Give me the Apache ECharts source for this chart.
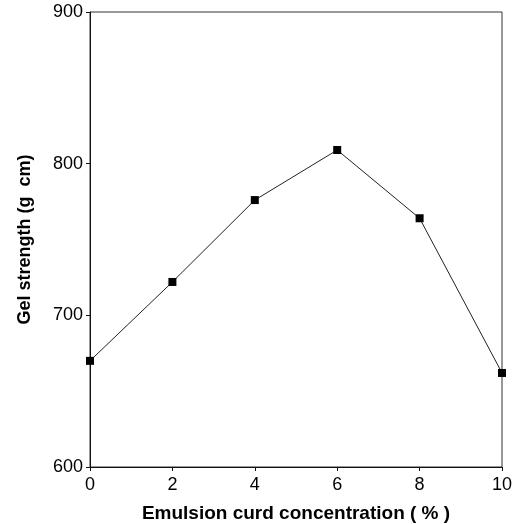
<!DOCTYPE html>
<html><head><meta charset="utf-8">
<script src="https://cdn.jsdelivr.net/npm/echarts@6/dist/echarts.min.js"></script>
<style>html,body{margin:0;padding:0;background:#fff}#c{width:518px;height:524px}</style>
</head><body><div id="c"></div>
<script>
const concentrations = [0, 2, 4, 6, 8, 10];
const gelStrength = [670, 722, 776, 809, 764, 662];
const xTicks = [0, 2, 4, 6, 8, 10];
const yTicks = [600, 700, 800, 900];

const chart = echarts.init(document.getElementById('c'), null, {renderer: 'canvas'});
const font = '"Liberation Sans", Arial, sans-serif';
chart.setOption({
  animation: false,
  backgroundColor: '#fff',
  grid: {left: 90, right: 16, top: 12, bottom: 57, containLabel: false, outerBoundsMode: 'none',
         show: true, borderColor: '#333', borderWidth: 1},
  xAxis: {
    type: 'value', min: xTicks[0], max: xTicks[xTicks.length-1], interval: 2,
    name: 'Emulsion curd concentration ( % )', nameLocation: 'middle', nameGap: 37,
    nameTextStyle: {fontFamily: font, fontSize: 19, fontWeight: 'bold', color: '#000'},
    axisLine: {show: true, lineStyle: {color: '#111', width: 1}},
    axisTick: {show: true, inside: false, length: 4, lineStyle: {color: '#111'}},
    axisLabel: {fontFamily: font, fontSize: 18, color: '#000', margin: 9},
    splitLine: {show: false}
  },
  yAxis: {
    type: 'value', min: yTicks[0], max: yTicks[yTicks.length-1], interval: 100,
    name: 'Gel strength (g  cm)', nameLocation: 'middle', nameGap: 56,
    nameTextStyle: {fontFamily: font, fontSize: 18, fontWeight: 'bold', color: '#000'},
    axisLine: {show: true, lineStyle: {color: '#111', width: 1}},
    axisTick: {show: true, inside: false, length: 4, lineStyle: {color: '#111'}},
    axisLabel: {fontFamily: font, fontSize: 18, color: '#000', margin: 7},
    splitLine: {show: false}
  },
  series: [{
    type: 'line',
    data: concentrations.map((x, i) => [x, gelStrength[i]]),
    symbol: 'rect', symbolSize: 8,
    itemStyle: {color: '#000'},
    lineStyle: {color: '#222', width: 1}
  }]
});
</script></body></html>
